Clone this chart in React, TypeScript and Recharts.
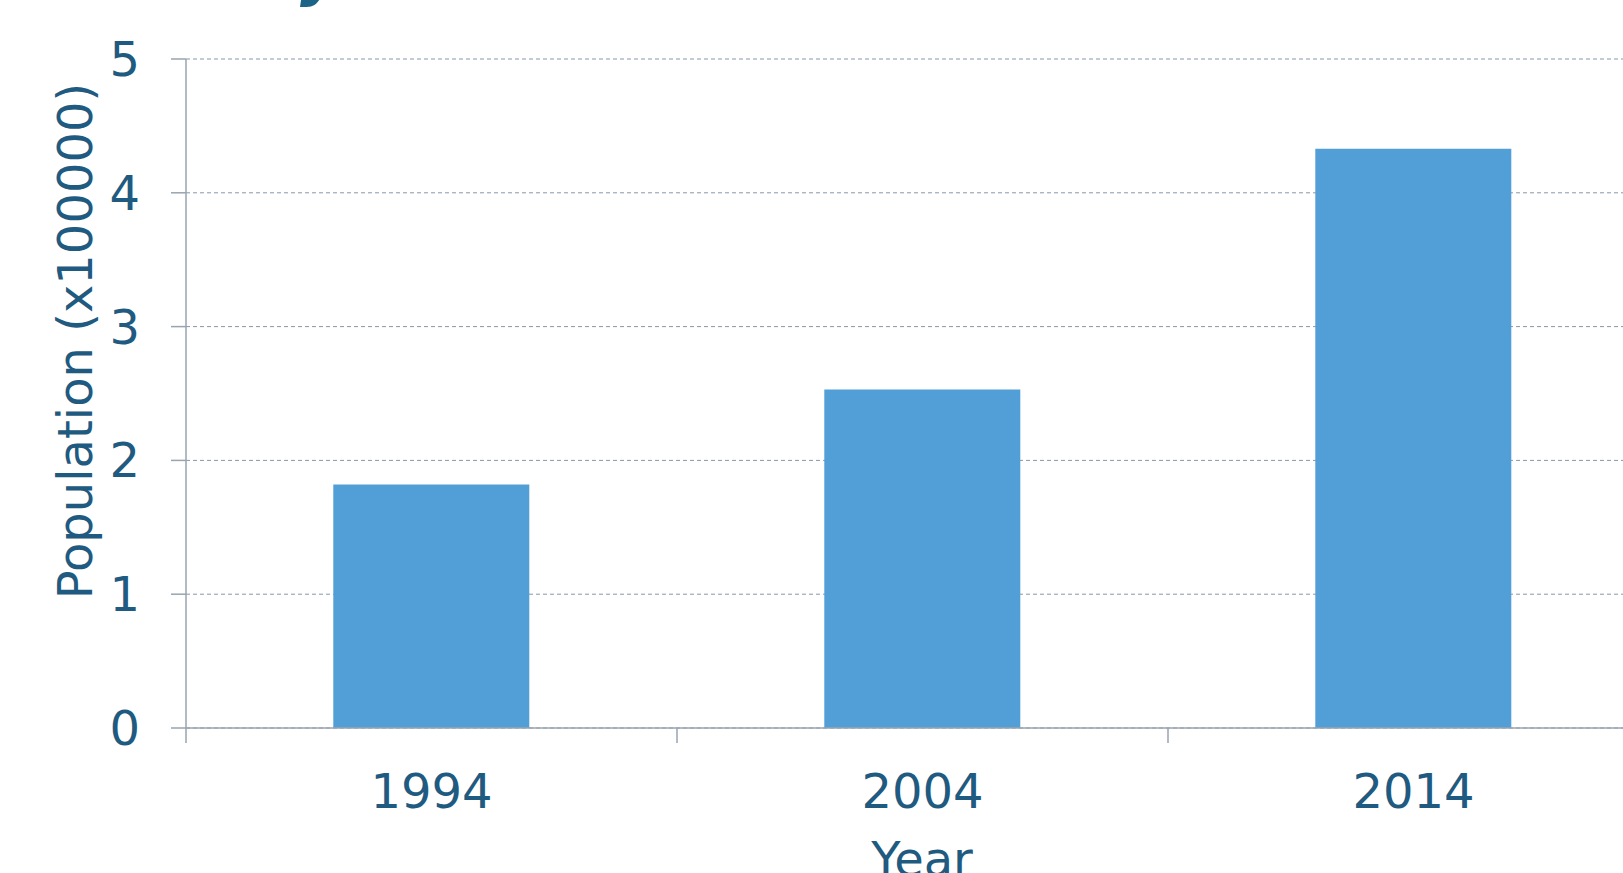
import React from "react";
import { BarChart, Bar, XAxis, YAxis, CartesianGrid } from "recharts";

const years = ["1994", "2004", "2014"];
const population = [1.82, 2.53, 4.33];
const yTicks = [0, 1, 2, 3, 4, 5];

const data = years.map((year, i) => ({ year, population: population[i] }));

const TEXT = "#1f5a80";
const AXIS = "#98a4b0";
const FONT = "'DejaVu Sans', Verdana, sans-serif";

const CHART_W = 1680;
const CHART_H = 873;
const MARGIN = { top: 59, right: 21, left: 0, bottom: 0 };
const Y_AXIS_W = 186;
const X_AXIS_H = 145;
const BAND = (CHART_W - MARGIN.right - Y_AXIS_W) / years.length;

const XTick = (props: any) => {
  const { x, y, payload, index } = props;
  const axisY = y - 31 - 15;
  const left = x - BAND / 2;
  return (
    <g>
      <line x1={left} x2={left} y1={axisY} y2={axisY + 15} stroke={AXIS} strokeWidth={1.5} />
      {index === years.length - 1 && (
        <line x1={x + BAND / 2} x2={x + BAND / 2} y1={axisY} y2={axisY + 15} stroke={AXIS} strokeWidth={1.5} />
      )}
      <text x={x} y={y} dy="0.71em" textAnchor="middle" fill={TEXT} fontSize={48} fontFamily={FONT}>
        {payload.value}
      </text>
    </g>
  );
};

const YLabel = () => (
  <text
    x={75}
    y={341}
    transform="rotate(-90 75 341)"
    textAnchor="middle"
    dominantBaseline="central"
    fill={TEXT}
    fontSize={48}
    fontFamily={FONT}
  >
    Population (x100000)
  </text>
);

const XLabel = () => (
  <text x={922} y={876} textAnchor="middle" fill={TEXT} fontSize={48} fontFamily={FONT}>
    Year
  </text>
);

export default function App() {
  return (
    <div
      style={{
        position: "absolute",
        left: 0,
        top: 0,
        width: 1623,
        height: 873,
        overflow: "hidden",
        background: "#fff",
      }}
    >
      {/* tail of the cut-off title above the chart */}
      <svg width={1623} height={40} style={{ position: "absolute", left: 0, top: 0 }}>
        <text x={300} y={-6} fill="#1b6488" fontSize={62} fontWeight="bold" fontStyle="italic" fontFamily={FONT}>
          y
        </text>
      </svg>
      <BarChart width={CHART_W} height={CHART_H} data={data} margin={MARGIN} barCategoryGap="30%">
        <CartesianGrid vertical={false} stroke="#8797a8" strokeDasharray="4 3" />
        <XAxis
          dataKey="year"
          height={X_AXIS_H}
          tickSize={15}
          tickMargin={31}
          tickLine={{ stroke: "none" }}
          axisLine={{ stroke: AXIS, strokeWidth: 1.5 }}
          tick={<XTick />}
          label={<XLabel />}
        />
        <YAxis
          width={Y_AXIS_W}
          domain={[0, 5]}
          ticks={yTicks}
          tickSize={15}
          tickMargin={31}
          tickLine={{ stroke: AXIS, strokeWidth: 1.5 }}
          axisLine={{ stroke: AXIS, strokeWidth: 1.5 }}
          tick={{ fill: TEXT, fontSize: 48, fontFamily: FONT }}
          label={<YLabel />}
        />
        <Bar dataKey="population" fill="#519fd6" isAnimationActive={false} />
      </BarChart>
    </div>
  );
}
